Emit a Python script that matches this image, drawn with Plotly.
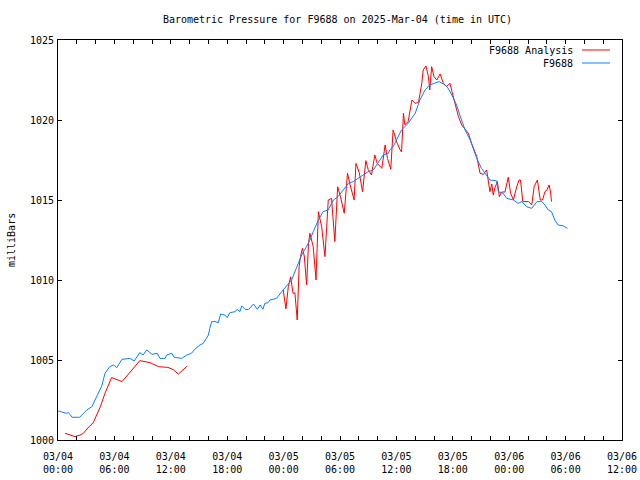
import pandas as pd
import plotly.graph_objects as go

# ---- data ----
BASE = "2025-03-04 00:00"

# Station F9688 observations: hours since BASE, pressure (mb)
station_hours = [
    0.0, 0.2, 0.4, 0.9, 1.1, 1.5, 2.3, 3.05, 3.6, 4.1, 4.65, 5.0, 5.5, 5.9, 6.25,
    6.8, 7.65, 8.1, 8.7, 9.05, 9.45, 10.0, 10.55, 10.85, 11.4, 11.55, 12.1, 12.35,
    13.15, 13.7, 14.2, 14.55, 15.1, 15.45, 15.8, 16.0, 16.15, 16.35, 16.7, 17.05,
    17.3, 17.75, 18.0, 18.3, 18.85, 19.05, 19.35, 19.55, 19.9, 20.25, 20.8, 21.2,
    21.5, 21.8, 22.0, 22.35, 22.55, 23.25, 23.8, 24.35, 24.85, 25.4, 25.95, 26.45,
    26.8, 27.15, 27.7, 28.2, 28.75, 29.3, 29.8, 30.35, 30.9, 31.4, 31.95, 32.5,
    33.0, 33.55, 34.05, 34.6, 35.15, 35.3, 35.65, 36.2, 36.55, 37.25, 38.0, 38.5,
    39.05, 39.55, 40.1, 40.55, 41.0, 41.4, 41.9, 42.4, 42.75, 43.3, 43.85, 44.2,
    44.55, 45.05, 45.45, 45.95, 46.65, 46.85, 47.35, 47.75, 48.45, 48.95, 49.35,
    49.85, 50.4, 50.95, 51.45, 51.8, 52.15, 52.5, 52.85, 53.2, 53.75, 54.2,
]
station_mb = [
    1001.80, 1001.80, 1001.75, 1001.67, 1001.72, 1001.42, 1001.42, 1001.87, 1002.08,
    1002.70, 1003.37, 1004.17, 1004.58, 1004.69, 1004.52, 1005.04, 1005.10, 1004.94,
    1005.46, 1005.31, 1005.63, 1005.35, 1005.42, 1005.10, 1005.10, 1005.31, 1005.42,
    1005.17, 1005.10, 1005.31, 1005.42, 1005.67, 1005.94, 1006.04, 1006.35, 1006.56,
    1006.98, 1007.40, 1007.40, 1007.33, 1007.87, 1007.81, 1007.65, 1007.96, 1008.02,
    1008.17, 1008.02, 1008.38, 1008.17, 1008.15, 1008.50, 1008.17, 1008.44, 1008.17,
    1008.54, 1008.58, 1008.75, 1008.85, 1009.27, 1009.69, 1010.00, 1010.80, 1011.60,
    1012.10, 1012.50, 1013.02, 1013.75, 1014.27, 1014.38, 1015.00, 1015.21, 1015.63,
    1016.04, 1016.15, 1016.35, 1016.56, 1016.77, 1016.88, 1017.29, 1017.81, 1017.92,
    1018.13, 1018.33, 1018.96, 1019.38, 1019.79, 1020.42, 1021.25, 1021.88, 1022.19,
    1022.29, 1022.40, 1022.25, 1022.08, 1021.56, 1020.94, 1020.31, 1019.38, 1018.75,
    1018.20, 1017.60, 1016.98, 1016.67, 1016.25, 1016.20, 1015.52, 1015.42, 1015.10,
    1015.00, 1014.79, 1014.90, 1014.58, 1014.48, 1014.90, 1014.90, 1014.69, 1014.38,
    1014.27, 1013.75, 1013.44, 1013.38, 1013.23,
]

# Analysis series, segment 1 and segment 2 (gap between them)
analysis1_hours = [0.75, 1.3, 1.8, 2.35, 2.7, 3.2, 3.75, 4.5, 5.0, 5.7, 6.8, 7.5,
                   8.2, 8.7, 9.8, 10.7, 11.7, 12.3, 12.8, 13.75]
analysis1_mb = [1000.42, 1000.32, 1000.21, 1000.31, 1000.42, 1000.77, 1001.08,
                1002.08, 1002.92, 1003.90, 1003.65, 1004.12, 1004.65, 1004.96,
                1004.83, 1004.58, 1004.54, 1004.38, 1004.12, 1004.62]

analysis2_hours = [
    23.95, 24.25, 24.5, 24.75, 25.0, 25.2, 25.45, 25.65, 25.8, 26.0, 26.2, 26.45,
    26.65, 26.8, 27.15, 27.45, 27.7, 28.05, 28.4, 28.75, 29.1, 29.45, 29.75, 30.05,
    30.45, 30.8, 31.05, 31.5, 31.7, 32.05, 32.4, 32.75, 33.0, 33.35, 33.7, 33.95,
    34.45, 34.8, 35.05, 35.4, 35.65, 36.05, 36.4, 36.55, 36.75, 36.9, 37.25, 37.65,
    38.0, 38.35, 38.7, 38.85, 39.15, 39.4, 39.55, 39.75, 40.0, 40.3, 40.65, 41.0,
    41.35, 41.7, 41.9, 42.25, 42.6, 42.95, 43.3, 43.65, 44.0, 44.55, 44.9, 45.25,
    45.6, 45.75, 45.95, 46.15, 46.3, 46.5, 46.75, 46.95, 47.2, 47.55, 47.9, 48.15,
    48.45, 48.8, 49.05, 49.2, 49.45, 50.05, 50.4, 50.65, 51.0, 51.3, 51.55, 51.8,
    52.0, 52.25, 52.4, 52.5,
]
analysis2_mb = [
    1009.40, 1008.20, 1009.58, 1010.20, 1009.17, 1009.20, 1007.50, 1010.83, 1011.46,
    1011.98, 1011.50, 1009.69, 1012.29, 1012.92, 1012.08, 1010.00, 1014.27, 1013.33,
    1011.46, 1015.00, 1015.10, 1012.40, 1015.83, 1015.20, 1014.17, 1016.67, 1016.00,
    1015.00, 1017.29, 1016.70, 1015.52, 1017.46, 1016.90, 1016.56, 1017.81, 1017.30,
    1016.98, 1018.44, 1017.60, 1016.92, 1019.38, 1018.60, 1018.13, 1018.00, 1020.42,
    1019.70, 1019.90, 1021.25, 1021.04, 1021.10, 1022.29, 1023.13, 1023.38, 1022.71,
    1021.88, 1023.33, 1022.71, 1022.50, 1022.88, 1022.29, 1022.10, 1022.29, 1021.80,
    1021.04, 1020.21, 1019.69, 1019.40, 1019.17, 1018.54, 1017.71, 1016.67, 1016.60,
    1016.88, 1016.30, 1015.52, 1016.00, 1015.31, 1015.80, 1016.15, 1015.21, 1015.50,
    1015.50, 1016.42, 1015.42, 1015.00, 1015.83, 1016.25, 1016.25, 1014.90, 1014.90,
    1014.69, 1015.83, 1016.25, 1015.00, 1015.00, 1015.52, 1015.60, 1015.94, 1015.50,
    1014.90,
]

tick_labels = ["03/04<br>00:00", "03/04<br>06:00", "03/04<br>12:00", "03/04<br>18:00",
               "03/05<br>00:00", "03/05<br>06:00", "03/05<br>12:00", "03/05<br>18:00",
               "03/06<br>00:00", "03/06<br>06:00", "03/06<br>12:00"]
y_ticks = [1000, 1005, 1010, 1015, 1020, 1025]

# ---- build ----
base = pd.Timestamp(BASE)
to_t = lambda hs: [base + pd.Timedelta(hours=h) for h in hs]

station_x = to_t(station_hours)
analysis_x = to_t(analysis1_hours) + [None] + to_t(analysis2_hours)
analysis_y = analysis1_mb + [None] + analysis2_mb

major_vals = [base + pd.Timedelta(hours=6 * i) for i in range(len(tick_labels))]
minor_vals = [base + pd.Timedelta(hours=2 * i) for i in range(31)]

FONT = "DejaVu Sans Mono"
RED = "#ff0000"
BLUE = "#0a80ff"

W, H = 640, 480
L, R, T, B = 58, 18, 40, 40
PW, PH = W - L - R, H - T - B  # 564 x 400

fig = go.Figure()
fig.add_trace(go.Scatter(x=analysis_x, y=analysis_y, mode="lines", name="F9688 Analysis",
                         line=dict(color=RED, width=1), connectgaps=False))
fig.add_trace(go.Scatter(x=station_x, y=station_mb, mode="lines", name="F9688",
                         line=dict(color=BLUE, width=1)))

fig.update_layout(
    width=W, height=H,
    margin=dict(l=L, r=R, t=T, b=B, autoexpand=False),
    paper_bgcolor="white", plot_bgcolor="white",
    showlegend=False,
    font=dict(family=FONT, size=10, color="black"),
    title=dict(text="Barometric Pressure for F9688 on 2025-Mar-04 (time in UTC)",
               x=337.5 / W, xref="container", xanchor="center",
               y=1 - 19 / H, yref="container", yanchor="middle",
               font=dict(family=FONT, size=10, color="black")),
)
fig.update_xaxes(
    type="date",
    range=[major_vals[0], major_vals[-1]],
    tickmode="array", tickvals=major_vals, ticktext=tick_labels,
    ticks="inside", ticklen=4, tickcolor="black", tickwidth=1,
    minor=dict(tickmode="array", tickvals=minor_vals, ticks="inside", ticklen=4,
               tickcolor="black", tickwidth=1, showgrid=False),
    showline=True, linecolor="black", linewidth=1, mirror="ticks",
    showgrid=False, zeroline=False, ticklabelstandoff=7,
    tickfont=dict(family=FONT, size=10, color="black"),
)
fig.update_yaxes(
    range=[1000, 1025],
    tickmode="array", tickvals=y_ticks, ticktext=[str(v) for v in y_ticks],
    ticks="inside", ticklen=4, tickcolor="black", tickwidth=1,
    showline=True, linecolor="black", linewidth=1, mirror="ticks",
    showgrid=False, zeroline=False, ticklabelstandoff=1,
    tickfont=dict(family=FONT, size=10, color="black"),
)

# y-axis title (gnuplot style, rotated)
fig.add_annotation(text="milliBars", xref="paper", yref="paper", x=(11 - L) / PW, y=0.5,
                   textangle=-90, showarrow=False, xanchor="center", yanchor="middle",
                   font=dict(family=FONT, size=10, color="black"))

# gnuplot-style key: text right-aligned, sample line to its right
for i, (name, col) in enumerate([("F9688 Analysis", RED), ("F9688", BLUE)]):
    ypx = 10 + 13 * i  # px below top of plot area
    yp = (PH - ypx) / PH
    fig.add_annotation(text=name, xref="paper", yref="paper", x=(575 - L) / PW, y=yp,
                       showarrow=False, xanchor="right", yanchor="middle",
                       font=dict(family=FONT, size=10, color="black"))
    fig.add_shape(type="line", xref="paper", yref="paper",
                  x0=(582 - L) / PW, x1=(610 - L) / PW, y0=yp, y1=yp,
                  line=dict(color=col, width=1))

fig.write_html("out.html",
               config={"displayModeBar": False, "staticPlot": True},
               post_script="document.body.style.margin='0';document.body.style.overflow='hidden';")
